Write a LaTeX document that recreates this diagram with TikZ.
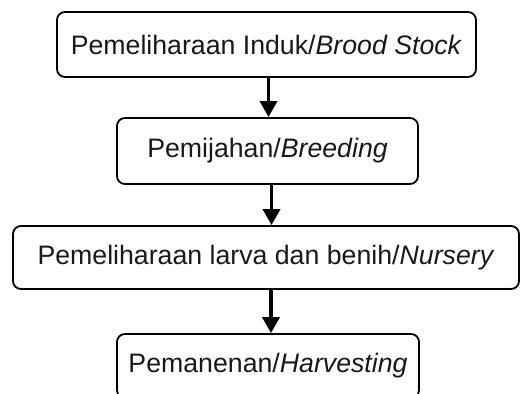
\documentclass[tikz,border=0pt]{standalone}
\usepackage{fontspec}
\setmainfont{Liberation Sans}
\usetikzlibrary{arrows.meta}
\begin{document}
\begin{tikzpicture}[x=1pt,y=-1pt,
  box/.style={draw, line width=1.8pt, rounded corners=8pt, inner sep=0pt,
    font=\fontsize{26.7}{30}\selectfont, text=black!90},
  arr/.style={line width=3.5pt, -{Triangle[length=16pt,width=17pt]}}]
\useasboundingbox (0,0) rectangle (520,394);
\node[box, minimum width=419pt, minimum height=65pt] (b1) at (266.5,44.5) {Pemeliharaan Induk/\textit{Brood Stock}};
\node[box, minimum width=301pt, minimum height=66pt] (b2) at (267.5,151) {Pemijahan/\textit{Breeding}};
\node[box, minimum width=506pt, minimum height=63pt] (b3) at (266,257.5) {Pemeliharaan larva dan benih/\textit{Nursery}};
\node[box, minimum width=302pt, minimum height=64pt] (b4) at (268,366) {Pemanenan/\textit{Harvesting}};
\draw[arr] ([xshift=2pt]b1.south) -- ([xshift=2pt]b1.south |- b2.north);
\draw[arr] ([xshift=4pt]b2.south) -- ([xshift=4pt]b2.south |- b3.north);
\draw[arr] ([xshift=5pt]b3.south) -- ([xshift=5pt]b3.south |- b4.north);
\end{tikzpicture}
\end{document}
